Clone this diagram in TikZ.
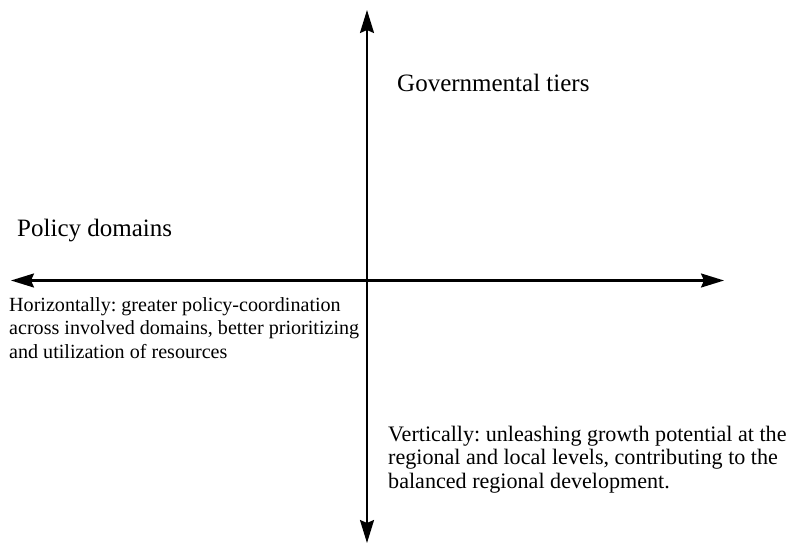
\documentclass[tikz,border=0pt]{standalone}
\usepackage{fontspec}
\setmainfont{Liberation Serif}
\usetikzlibrary{arrows.meta}
\frenchspacing
\begin{document}
\begin{tikzpicture}[x=1pt,y=-1pt,
  axis/.style={line width=2.2pt,{Stealth[length=23pt,width=14pt,inset=3pt]}-{Stealth[length=23pt,width=14pt,inset=3pt]}},
  title/.style={inner sep=0pt,anchor=base west,font=\fontsize{25}{30}\selectfont},
  note/.style={inner sep=0pt,anchor=north west,align=left},
]
\useasboundingbox (0,0) rectangle (793,544);
% axis end points
\coordinate (top) at (367,10);
\coordinate (bottom) at (367,543);
\coordinate (left) at (11,280.5);
\coordinate (right) at (724,280.5);
% the two axes
\draw[axis] (bottom) -- (top);
\draw[axis] (left) -- (right);
% axis titles
\node[title] (tiers) at (397,91) {Governmental tiers};
\node[title] (domains) at (17,236) {Policy domains};
% explanatory notes
\node[note,font=\fontsize{20.1}{23.4}\selectfont] (horiz) at (9,297.3)
  {Horizontally: greater policy-coordination\\across involved domains, better prioritizing\\and utilization of resources};
\node[note,font=\fontsize{22.1}{23.4}\selectfont] (vert) at (388,425.9)
  {Vertically: unleashing growth potential at the\\regional and local levels, contributing to the\\balanced regional development.};
\end{tikzpicture}
\end{document}
